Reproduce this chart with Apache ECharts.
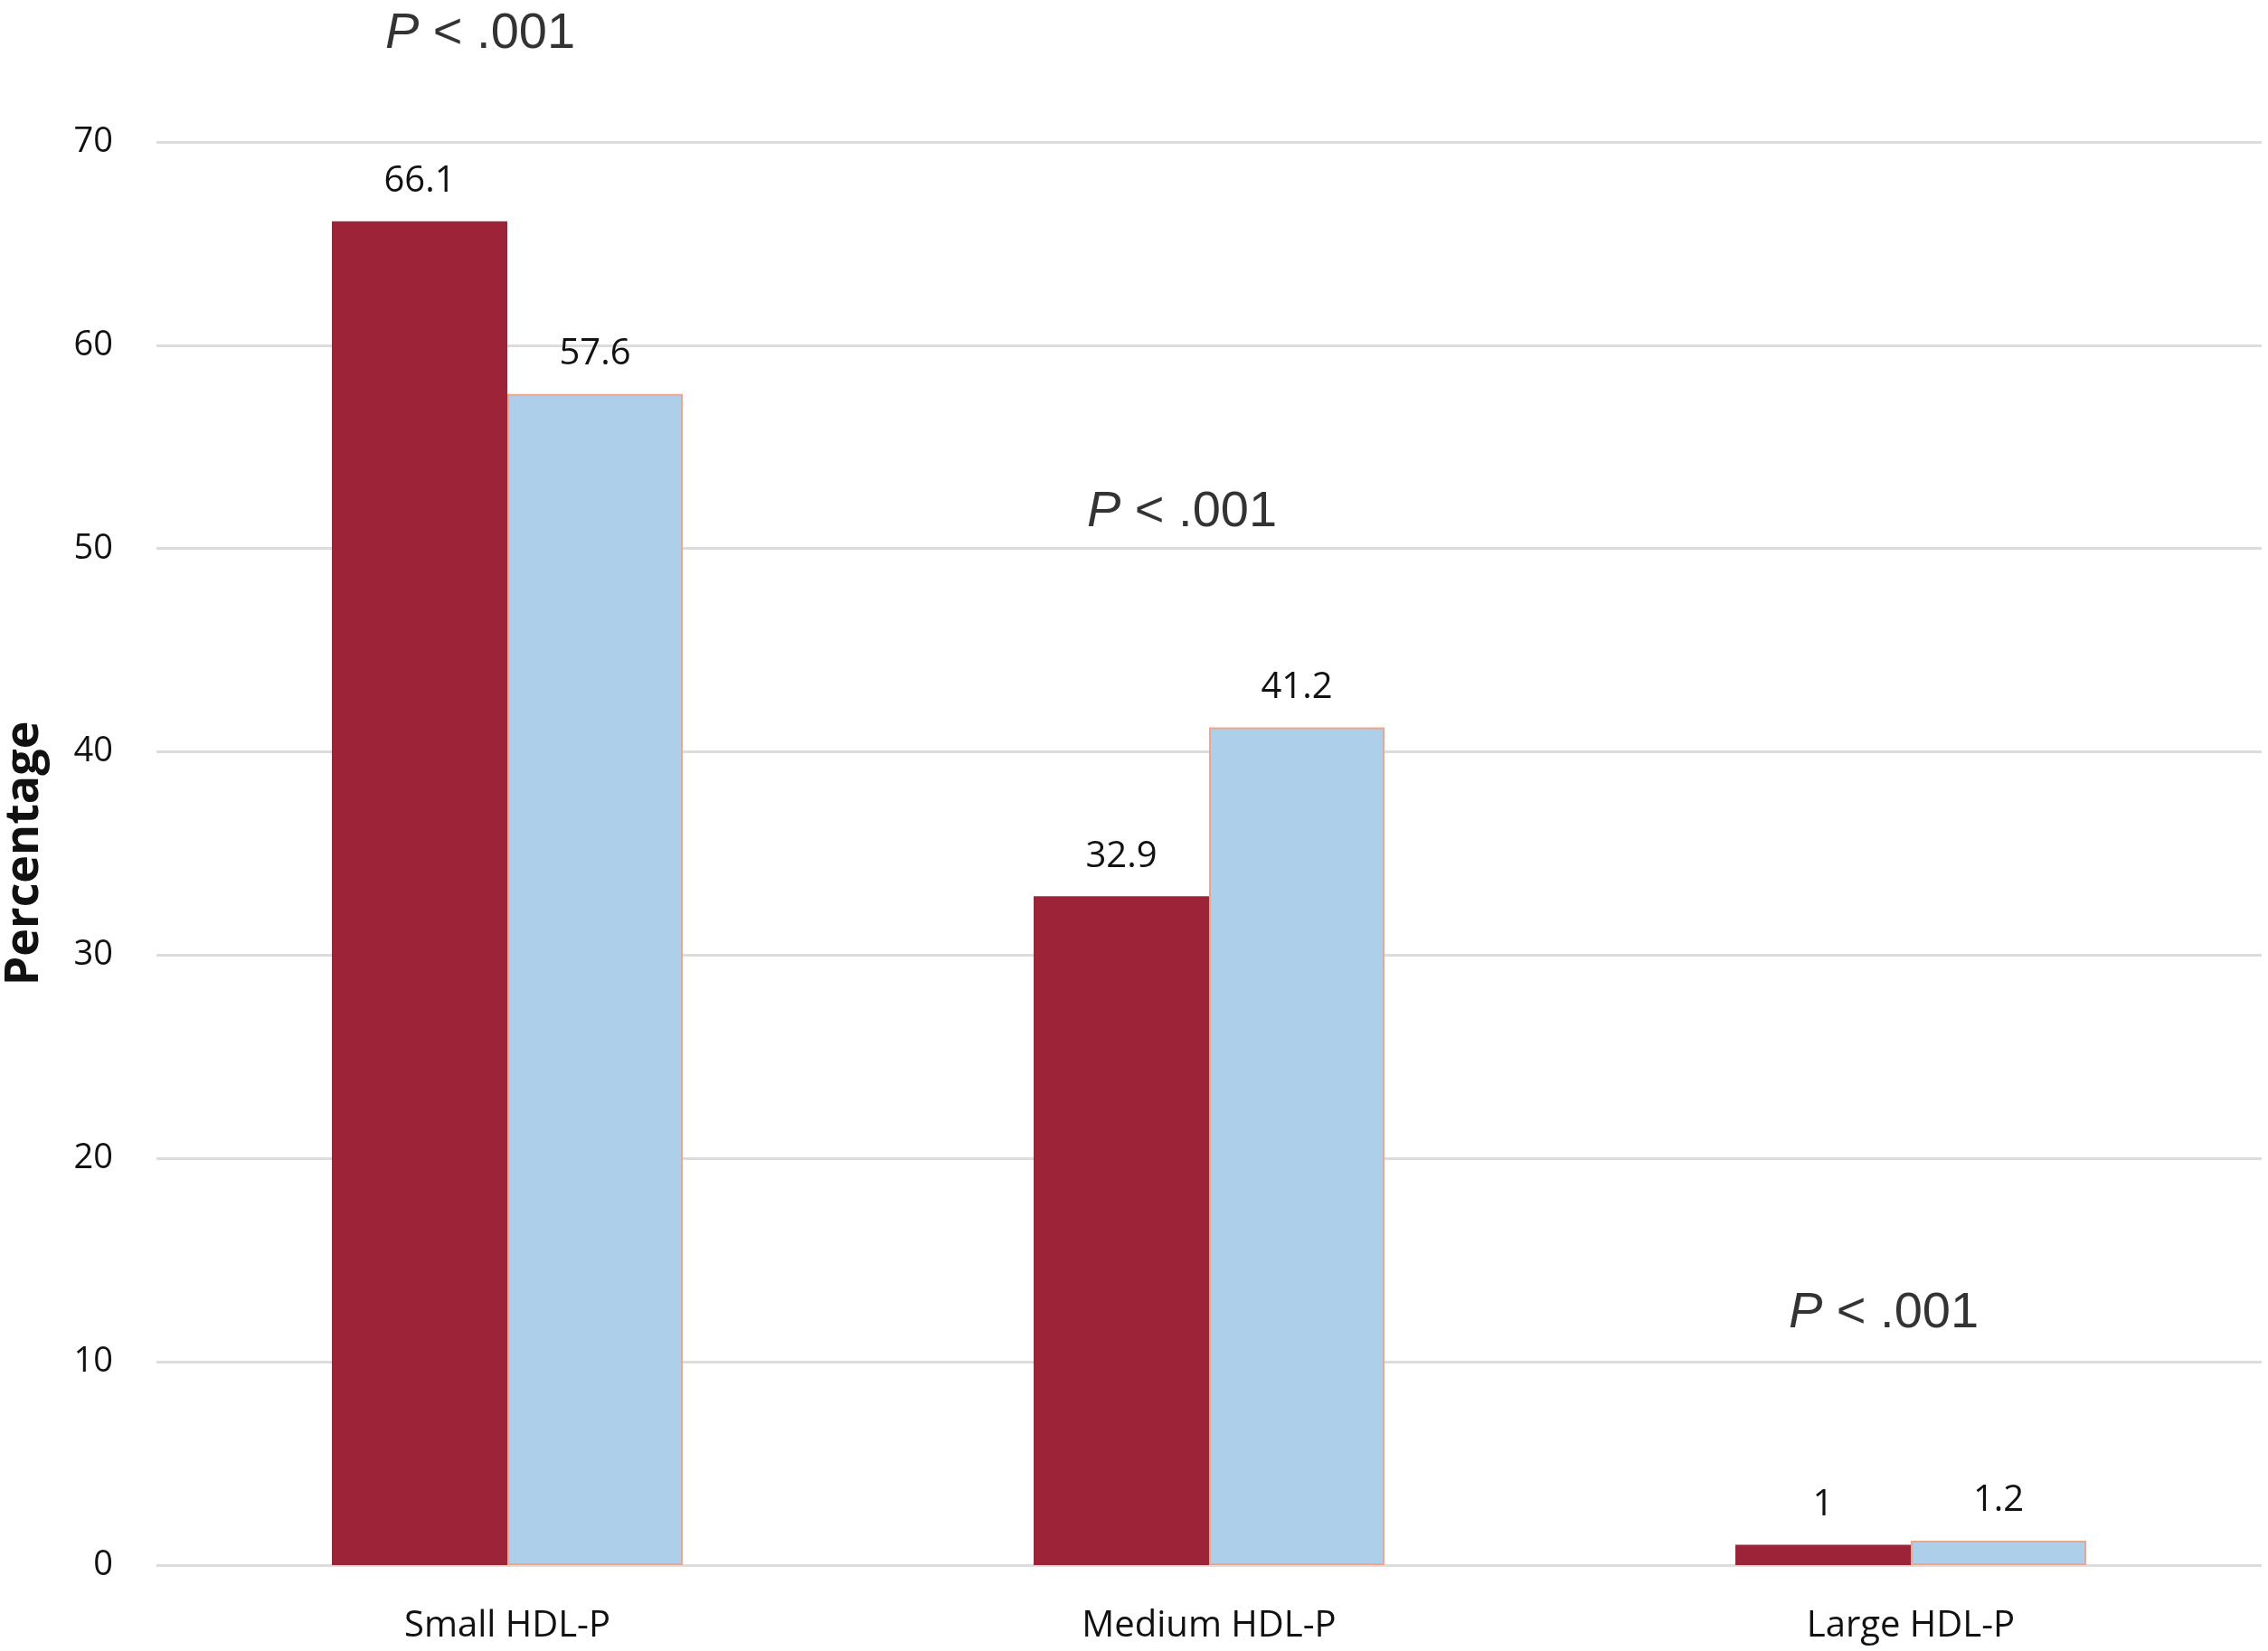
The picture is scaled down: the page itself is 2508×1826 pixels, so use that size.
<!DOCTYPE html>
<html>
<head>
<meta charset="utf-8">
<script src="https://cdn.jsdelivr.net/npm/echarts@6/dist/echarts.min.js"></script>
<style>
html,body{margin:0;padding:0;background:#fff;}
#main{width:2508px;height:1826px;}
</style>
</head>
<body>
<div id="main"></div>
<script>
const categories = ['Small HDL-P', 'Medium HDL-P', 'Large HDL-P'];
const seriesA = [66.1, 32.9, 1];
const seriesB = [57.6, 41.2, 1.2];
const pLabelText = ['P < .001', 'P < .001', 'P < .001'];
const pLabelY = [75.3, 51.8, 12.4];
const yTicks = [0, 10, 20, 30, 40, 50, 60, 70];

const chart = echarts.init(document.getElementById('main'));
const fontFam = '"Open Sans", "Noto Sans", sans-serif';

chart.setOption({
  backgroundColor: '#ffffff',
  animation: false,
  grid: { left: 173, right: 7, top: 157, bottom: 95, containLabel: false, outerBoundsMode: 'none' },
  xAxis: {
    type: 'category',
    data: categories,
    axisLine: { show: false },
    axisTick: { show: false },
    axisLabel: { color: '#111', fontSize: 40, fontFamily: fontFam, margin: 48 }
  },
  yAxis: {
    type: 'value',
    min: yTicks[0],
    max: yTicks[yTicks.length - 1],
    interval: 10,
    name: 'Percentage',
    nameLocation: 'middle',
    nameGap: 120,
    nameTextStyle: { color: '#111', fontSize: 52, fontWeight: 'bold', fontFamily: fontFam },
    axisLine: { show: false },
    axisTick: { show: false },
    axisLabel: { color: '#111', fontSize: 38, fontFamily: fontFam, margin: 48 },
    splitLine: { lineStyle: { color: '#dcdcdc', width: 3 } }
  },
  series: [
    {
      name: 'Group A',
      type: 'bar',
      data: seriesA,
      barWidth: 194,
      barGap: '0%',
      itemStyle: { color: '#9C2338' },
      label: { show: true, position: 'top', distance: 24, color: '#111', fontSize: 40, fontFamily: fontFam }
    },
    {
      name: 'Group B',
      type: 'bar',
      data: seriesB,
      barWidth: 194,
      barGap: '0%',
      itemStyle: { color: '#AECFEA', borderColor: '#EFA58A', borderWidth: 2 },
      label: { show: true, position: 'top', distance: 24, color: '#111', fontSize: 40, fontFamily: fontFam }
    },
    {
      name: 'P values',
      type: 'scatter',
      data: pLabelY.map((v, i) => [i, v]),
      symbolSize: 0,
      clip: false,
      silent: true,
      z: 10,
      label: {
        show: true,
        position: 'inside',
        offset: [-30, 0],
        formatter: (p) => '{i|P}{n|' + pLabelText[p.dataIndex].slice(1) + '}',
        rich: {
          i: { fontStyle: 'italic', fontSize: 56, fontFamily: '"Liberation Sans", Arial, sans-serif', color: '#000' },
          n: { fontSize: 56, fontFamily: '"Liberation Sans", Arial, sans-serif', color: '#000' }
        }
      }
    }
  ]
});
</script>
</body>
</html>
